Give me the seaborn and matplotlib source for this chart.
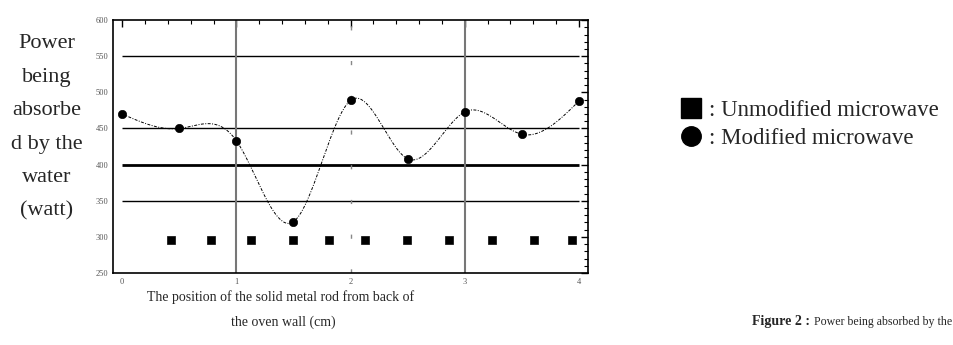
import matplotlib
matplotlib.use('Agg')
import matplotlib.pyplot as plt
from matplotlib.lines import Line2D
from matplotlib.ticker import MultipleLocator
import seaborn as sns
import numpy as np

# modified microwave readings
pos_mod = [0, 0.5, 1, 1.5, 2, 2.5, 3, 3.5, 4]
power_mod = [470, 450, 433, 321, 489, 408, 473, 442, 488]
# unmodified microwave readings
pos_unmod = [0.43, 0.78, 1.13, 1.5, 1.81, 2.13, 2.49, 2.86, 3.24, 3.61, 3.94]
power_unmod = [296, 296, 296, 296, 296, 296, 296, 296, 296, 296, 296]

xticks = [0, 1, 2, 3, 4]
yticks = [250, 300, 350, 400, 450, 500, 550, 600]


def natural_spline(x, y, n=400):
    # smooth curve through the readings, like the original plot
    x = np.asarray(x, float)
    y = np.asarray(y, float)
    h = np.diff(x)
    k = len(x)
    A = np.zeros((k, k))
    b = np.zeros(k)
    A[0, 0] = A[-1, -1] = 1
    for i in range(1, k - 1):
        A[i, i - 1] = h[i - 1]
        A[i, i] = 2 * (h[i - 1] + h[i])
        A[i, i + 1] = h[i]
        b[i] = 6 * ((y[i + 1] - y[i]) / h[i] - (y[i] - y[i - 1]) / h[i - 1])
    m = np.linalg.solve(A, b)
    xs = np.linspace(x[0], x[-1], n)
    j = np.clip(np.searchsorted(x, xs) - 1, 0, k - 2)
    t = xs - x[j]
    hh = h[j]
    ys = (m[j] * (x[j + 1] - xs) ** 3 / (6 * hh) + m[j + 1] * t ** 3 / (6 * hh)
          + (y[j] / hh - m[j] * hh / 6) * (x[j + 1] - xs)
          + (y[j + 1] / hh - m[j + 1] * hh / 6) * t)
    return xs, ys


sns.set_style('white')
plt.rcParams['font.family'] = ['Liberation Serif', 'DejaVu Serif']

fig = plt.figure(figsize=(9.54, 3.45), dpi=100)
ax = fig.add_axes([0.1185, 0.2087, 0.498, 0.733])

# grid-ish lines
for yv, lw in [(350, 1.0), (400, 2.0), (450, 1.0), (550, 1.0)]:
    ax.hlines(yv, 0, 4, color='black', lw=lw, zorder=1)
for xv in [1, 3]:
    ax.axvline(xv, color='#777777', lw=1.5, zorder=1)
ax.axvline(2, color='#888888', lw=1.0, ls=(0, (3, 22)), zorder=1)

xs, ys = natural_spline(pos_mod, power_mod)
ax.plot(xs, ys, color='black', lw=0.7, ls=(0, (3, 1.5, 1, 1.5)), zorder=2)

sns.scatterplot(x=pos_mod, y=power_mod, ax=ax, marker='o', s=36,
                color='black', edgecolor='black', zorder=3)
sns.scatterplot(x=pos_unmod, y=power_unmod, ax=ax, marker='s', s=34,
                color='black', edgecolor='black', zorder=3)

ax.set_xlim(-0.08, 4.08)
ax.set_ylim(250, 600)
ax.set_xticks(xticks)
ax.set_yticks(yticks)
ax.xaxis.set_minor_locator(MultipleLocator(0.2))
ax.yaxis.set_minor_locator(MultipleLocator(10))
ax.tick_params(which='both', direction='in', top=True, right=True,
               labelsize=6, labelcolor='#555555', color='black')
ax.tick_params(which='major', length=5, width=1)
ax.tick_params(which='minor', length=3, width=0.8)
for s in ax.spines.values():
    s.set_color('black')
    s.set_linewidth(1.2)

ax.set_xlabel('')
ax.set_ylabel('')

fig.text(0.049, 0.63, 'Power\nbeing\nabsorbe\nd by the\nwater\n(watt)',
         ha='center', va='center', fontsize=16, linespacing=2.03)
fig.text(0.294, 0.139, 'The position of the solid metal rod from back of',
         ha='center', va='center', fontsize=10)
fig.text(0.297, 0.067, 'the oven wall (cm)', ha='center', va='center',
         fontsize=10)
fig.text(0.788, 0.067, 'Figure 2 :', ha='left', va='center',
         fontsize=10, fontweight='bold')
fig.text(0.853, 0.067, 'Power being absorbed by the', ha='left', va='center',
         fontsize=8.6)

handles = [Line2D([], [], ls='none', marker='s', ms=14, color='black'),
           Line2D([], [], ls='none', marker='o', ms=14, color='black')]
fig.legend(handles, [': Unmodified microwave', ': Modified microwave'],
           loc='center left', bbox_to_anchor=(0.70, 0.638), frameon=False,
           fontsize=16.5, handlelength=1.0, handletextpad=0.3,
           labelspacing=0.3, borderpad=0)

fig.savefig('out.png', dpi=100)
